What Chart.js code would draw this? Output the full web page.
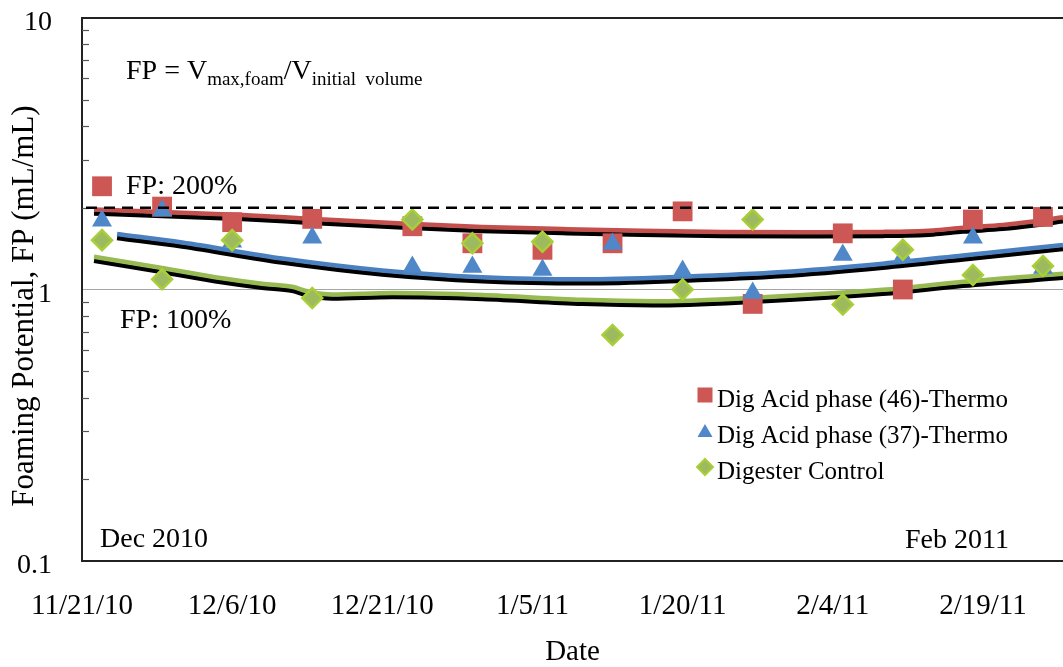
<!DOCTYPE html>
<html>
<head>
<meta charset="utf-8">
<script src="https://cdn.jsdelivr.net/npm/chart.js@4.4.1/dist/chart.umd.min.js"></script>
<style>
  html, body { margin: 0; padding: 0; background: #ffffff; overflow: hidden; }
  #wrap { width: 1063px; height: 667px; position: relative; }
  #fp { display: block; }
</style>
</head>
<body>
<div id="wrap"><canvas id="fp"></canvas></div>
<script>
// ---- Foaming potential measurements (mL/mL) ----
const axisStart = '11/21/10';
const axisEnd = '2/27/11';
const tickLabels = ['11/21/10', '12/6/10', '12/21/10', '1/5/11', '1/20/11', '2/4/11', '2/19/11'];
const sampleDates = ['11/23/10', '11/29/10', '12/6/10', '12/14/10', '12/24/10', '12/30/10', '1/6/11',
                     '1/13/11', '1/20/11', '1/27/11', '2/5/11', '2/11/11', '2/18/11', '2/25/11'];
const acid46 = [2.40, 2.02, 1.77, 1.82, 1.71, 1.48, 1.40, 1.48, 1.94, 0.885, 1.61, 1.00, 1.81, 1.85];
const acid37 = [1.79, 1.95, 1.50, 1.55, 1.21, 1.21, 1.18, 1.47, 1.17, 0.97, 1.34, 1.32, 1.55, 1.20];
const control = [1.52, 1.09, 1.52, 0.93, 1.81, 1.48, 1.50, 0.68, 1.00, 1.81, 0.88, 1.40, 1.13, 1.22];

// Trend curves, read as (day since axis start, FP)
const trend46Days = [1.2, 8, 16, 23, 32, 40, 48, 56, 64, 72, 80, 85, 88, 92, 95, 98];
const trend46 = [1.97, 1.93, 1.88, 1.82, 1.75, 1.70, 1.67, 1.645, 1.63, 1.625, 1.63, 1.65, 1.69, 1.73, 1.78, 1.845];
const trend37Days = [3.5, 10, 20, 30, 40, 50, 60, 70, 80, 88, 98];
const trend37 = [1.60, 1.49, 1.30, 1.175, 1.11, 1.09, 1.115, 1.16, 1.245, 1.335, 1.46];
const trendCtlDays = [1.2, 8, 14, 18, 21, 22.5, 25, 31, 40, 50, 57, 67, 80, 88, 98];
const trendCtl = [1.32, 1.20, 1.10, 1.05, 1.023, 0.985, 0.958, 0.970, 0.955, 0.916, 0.905, 0.932, 0.997, 1.067, 1.142];

const fpThreshold = 2;           // FP: 200%
const yTickValues = [0.1, 1, 10];
const yMinorTicks = [0.2, 0.3, 0.4, 0.5, 0.6, 0.7, 0.8, 0.9, 2, 3, 4, 5, 6, 7, 8, 9];
const seriesNames = ['Dig Acid phase (46)-Thermo', 'Dig Acid phase (37)-Thermo', 'Digester Control'];

// ---- helpers ----
function dayOf(s) {
  const [m, d, y] = s.split('/').map(Number);
  const [m0, d0, y0] = axisStart.split('/').map(Number);
  return (Date.UTC(2000 + y, m - 1, d) - Date.UTC(2000 + y0, m0 - 1, d0)) / 864e5;
}
const tickDays = tickLabels.map(dayOf);
const sampleDays = sampleDates.map(dayOf);
const pts = (xs, ys) => xs.map((x, i) => ({ x: x, y: ys[i] }));

const SERIF = '"Liberation Serif", "Times New Roman", serif';
const C = {
  red: '#CD5754', redLine: '#C4504D',
  blue: '#4F87C9', blueLine: '#4A80C0',
  green: '#9DBA5E', greenEdge: '#A9CF38', greenLine: '#97BA52'
};
const CLEAR = 'rgba(0,0,0,0)';

// Black offset copy under each trend curve
const trendShadow = {
  id: 'trendShadow',
  beforeDatasetDraw(chart, args) {
    if (chart.data.datasets[args.index].isTrend) {
      const ctx = chart.ctx;
      ctx.save();
      ctx.shadowColor = '#000000';
      ctx.shadowOffsetX = 0;
      ctx.shadowOffsetY = 4;
      ctx.shadowBlur = 0;
    }
  },
  afterDatasetDraw(chart, args) {
    if (chart.data.datasets[args.index].isTrend) chart.ctx.restore();
  }
};

// Frame, minor ticks, reference line, annotations and legend
const decorations = {
  id: 'decorations',
  beforeDatasetsDraw(chart) {
    const { ctx, chartArea: a, scales: { y } } = chart;
    ctx.save();
    ctx.strokeStyle = '#555555';
    ctx.lineWidth = 1.2;
    yMinorTicks.forEach(v => {
      const py = Math.round(y.getPixelForValue(v)) + 0.5;
      ctx.beginPath(); ctx.moveTo(a.left, py); ctx.lineTo(a.left + 7, py); ctx.stroke();
    });
    ctx.strokeStyle = '#222222';
    ctx.lineWidth = 2;
    ctx.beginPath(); ctx.moveTo(a.left, a.top); ctx.lineTo(a.right, a.top); ctx.stroke();
    ctx.restore();
  },
  afterDatasetsDraw(chart) {
    const { ctx, chartArea: a, scales: { y } } = chart;
    ctx.save();
    // FP = 200% reference line
    const py = y.getPixelForValue(fpThreshold);
    ctx.strokeStyle = '#000000';
    ctx.lineWidth = 2.5;
    ctx.setLineDash([11, 7]);
    ctx.beginPath(); ctx.moveTo(a.left + 4, py); ctx.lineTo(a.right, py); ctx.stroke();
    ctx.setLineDash([]);

    ctx.fillStyle = '#000000';
    ctx.textBaseline = 'alphabetic';
    ctx.textAlign = 'left';
    // FP definition with subscripts
    let x = 126;
    const big = '28px ' + SERIF, small = '19px ' + SERIF;
    const runs = [['FP = V', big, 79], ['max,foam', small, 85], ['/V', big, 79], ['initial  volume', small, 85]];
    runs.forEach(([t, f, b]) => { ctx.font = f; ctx.fillText(t, x, b); x += ctx.measureText(t).width; });

    ctx.font = big;
    ctx.fillText('FP: 200%', 126, 194);
    ctx.fillText('FP: 100%', 120, 328);
    ctx.fillText('Dec 2010', 100, 547);
    ctx.fillText('Feb 2011', 905, 548);

    // axis title (vertical)
    ctx.save();
    ctx.font = '31px ' + SERIF;
    ctx.translate(33, 306);
    ctx.rotate(-Math.PI / 2);
    ctx.textAlign = 'center';
    ctx.fillText('Foaming Potential, FP (mL/mL)', 0, 0);
    ctx.restore();

    // legend
    ctx.font = '25px ' + SERIF;
    const mx = 705, tx = 717, rows = [407, 443, 479];
    seriesNames.forEach((name, i) => {
      const by = rows[i], cy = by - 12;
      ctx.beginPath();
      if (i === 0) {
        ctx.fillStyle = C.red;
        ctx.fillRect(mx - 7.5, cy - 7.5, 15, 15);
      } else if (i === 1) {
        ctx.fillStyle = C.blue;
        ctx.moveTo(mx, cy - 7); ctx.lineTo(mx + 7.5, cy + 6); ctx.lineTo(mx - 7.5, cy + 6); ctx.closePath(); ctx.fill();
      } else {
        ctx.fillStyle = C.green;
        ctx.strokeStyle = C.greenEdge; ctx.lineWidth = 2;
        ctx.moveTo(mx, cy - 8); ctx.lineTo(mx + 8, cy); ctx.lineTo(mx, cy + 8); ctx.lineTo(mx - 8, cy); ctx.closePath();
        ctx.fill(); ctx.stroke();
      }
      ctx.fillStyle = '#000000';
      ctx.fillText(name, tx, by);
    });
    ctx.restore();
  }
};

const trendStyle = (color) => ({
  showLine: true, isTrend: true, borderColor: color, borderWidth: 4.5,
  pointRadius: 0, pointHoverRadius: 0, cubicInterpolationMode: 'monotone', fill: false, order: 5
});

new Chart(document.getElementById('fp'), {
  type: 'scatter',
  data: {
    datasets: [
      Object.assign({ label: 'trend46', data: pts(trend46Days, trend46) }, trendStyle(C.redLine)),
      Object.assign({ label: 'trend37', data: pts(trend37Days, trend37) }, trendStyle(C.blueLine)),
      Object.assign({ label: 'trendCtl', data: pts(trendCtlDays, trendCtl) }, trendStyle(C.greenLine)),
      { label: seriesNames[0], data: pts(sampleDays, acid46), pointStyle: 'rect', pointRadius: 14,
        backgroundColor: C.red, borderColor: C.red, borderWidth: 0, order: 3 },
      { label: seriesNames[1], data: pts(sampleDays, acid37), pointStyle: 'triangle', pointRadius: 11.5,
        backgroundColor: C.blue, borderColor: C.blue, borderWidth: 0, order: 2 },
      { label: seriesNames[2], data: pts(sampleDays, control), pointStyle: 'rectRot', pointRadius: 10,
        backgroundColor: C.green, borderColor: C.greenEdge, borderWidth: 2.5, order: 1 }
    ]
  },
  options: {
    responsive: true,
    maintainAspectRatio: false,
    animation: false,
    events: [],
    layout: { autoPadding: false, padding: { top: 18, left: 0, right: 0, bottom: 0 } },
    plugins: { legend: { display: false }, tooltip: { enabled: false } },
    scales: {
      x: {
        type: 'linear',
        min: 0,
        max: dayOf(axisEnd),
        afterBuildTicks: s => { s.ticks = tickDays.map(v => ({ value: v })); },
        afterFit: s => { s.height = 106; s.paddingRight = 0; },
        grid: { display: true, drawOnChartArea: false, drawTicks: true, tickLength: 28, tickColor: CLEAR, color: CLEAR },
        border: { display: true, color: '#222222', width: 2 },
        ticks: {
          autoSkip: false, maxRotation: 0, minRotation: 0, padding: 0, color: '#000000',
          font: { family: SERIF, size: 29 },
          callback: (v, i) => tickLabels[i]
        },
        title: { display: true, text: 'Date', color: '#000000', padding: { top: 0, bottom: 0 },
                 font: { family: SERIF, size: 29, lineHeight: 1 } }
      },
      y: {
        type: 'logarithmic',
        min: 0.1,
        max: 10,
        afterBuildTicks: s => { s.ticks = yTickValues.map(v => ({ value: v })); },
        afterFit: s => { s.width = 82; s.paddingTop = 0; s.paddingBottom = 0; },
        grid: {
          drawTicks: true, tickLength: 30, tickColor: CLEAR, lineWidth: 1,
          color: c => (c.tick && c.tick.value === 1 ? '#A6A6A6' : CLEAR)
        },
        border: { display: true, color: '#222222', width: 2 },
        ticks: {
          padding: 0, labelOffset: 5, color: '#000000',
          font: { family: SERIF, size: 28, lineHeight: 0.8 },
          callback: v => String(v)
        }
      }
    }
  },
  plugins: [trendShadow, decorations]
});
</script>
</body>
</html>
